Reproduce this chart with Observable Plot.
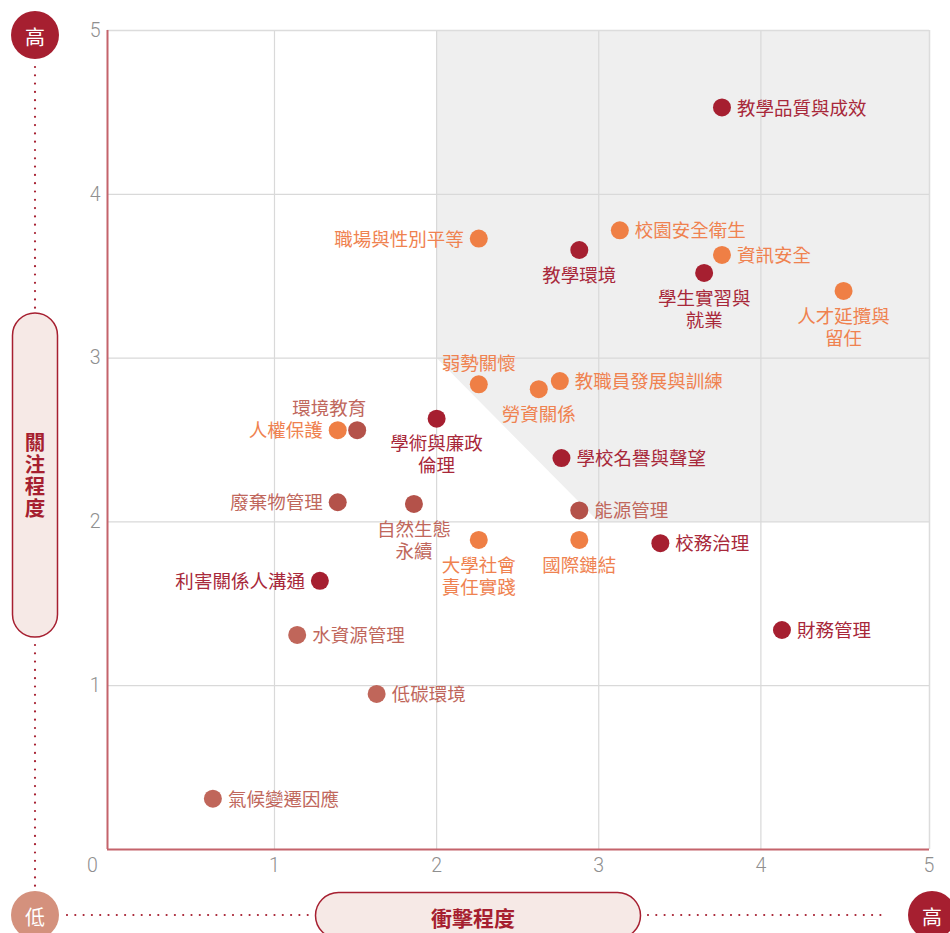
<!DOCTYPE html>
<html><head><meta charset="utf-8">
<script src="https://cdn.jsdelivr.net/npm/d3@7"></script>
<script src="https://cdn.jsdelivr.net/npm/@observablehq/plot@0.6"></script>
<style>
body{margin:0;background:#fff;}
#wrap{position:relative;width:950px;height:933px;overflow:hidden;font-family:"Noto Sans CJK TC","Noto Sans",sans-serif;}
#wrap svg.deco{position:absolute;left:0;top:0;}
</style></head><body><div id="wrap"></div>
<script>
// ---- data ----
const topics = ["教學品質與成效","職場與性別平等","校園安全衛生","教學環境","資訊安全","學生實習與\n就業","人才延攬與\n留任","弱勢關懷","教職員發展與訓練","勞資關係","學術與廉政\n倫理","人權保護","環境教育","學校名譽與聲望","廢棄物管理","自然生態\n永續","能源管理","大學社會\n責任實踐","國際鏈結","校務治理","利害關係人溝通","財務管理","水資源管理","低碳環境","氣候變遷因應"];
const impact  = [3.76,2.26,3.13,2.88,3.76,3.65,4.51,2.26,2.76,2.63,2.00,1.39,1.51,2.77,1.39,1.86,2.88,2.26,2.88,3.38,1.28,4.13,1.14,1.63,0.62];
const concern = [4.53,3.73,3.78,3.66,3.63,3.52,3.41,2.84,2.86,2.81,2.63,2.56,2.56,2.39,2.12,2.11,2.07,1.89,1.89,1.87,1.64,1.34,1.31,0.95,0.31];
const group   = ["治理","社會","社會","治理","社會","治理","社會","社會","社會","社會","治理","社會","環境","治理","環境","環境","環境","社會","社會","治理","治理","治理","氣候","氣候","氣候"];
const labelSide = ["right","left","right","below","right","below","below","above","right","below","below","left","aboveLeft","right","left","below","right","below","below","right","left","right","right","right","right"];
const groups = ["治理","社會","環境","氣候"];
const pointColors = ["#a61f30","#ef7f45","#b4524a","#c0665a"];
const textColors  = ["#a8283a","#ef8250","#c0675c","#c0675c"];
const xTickVals = [1,2,3,4];
const yTickVals = [1,2,3,4,5];
const xDomain = [-0.03,5.04];
const yDomain = [0,5];
const threshold = 2, diagSum = 5;

const data = topics.map((t,i)=>({topic:t,x:impact[i],y:concern[i],group:group[i],side:labelSide[i]}));
const tcol = g => textColors[groups.indexOf(g)];

// high-priority zone: x>=2, y>=2, x+y>=5
const zone = [
  {x:threshold, y1:diagSum-threshold, y2:yDomain[1]},
  {x:diagSum-threshold, y1:threshold, y2:yDomain[1]},
  {x:xDomain[1], y1:threshold, y2:yDomain[1]}
];

const font = '"Noto Sans CJK TC","Noto Sans",sans-serif';
const labelStyle = {fontSize:18.5, fontFamily:font, fill:d=>tcol(d.group), lineHeight:1.19};
const tickStyle = {tickSize:0, fontSize:19.5, fontWeight:300, fontFamily:"Roboto", fill:"#8f8f8f", label:null, tickFormat:d=>String(d)};

const chart = Plot.plot({
  width:950, height:933,
  marginLeft:107, marginRight:21, marginTop:30, marginBottom:84,
  style:{fontFamily:font, background:"transparent"},
  x:{domain:xDomain},
  y:{domain:yDomain},
  color:{domain:groups, range:pointColors},
  marks:[
    Plot.areaY(zone,{x:"x",y1:"y1",y2:"y2",fill:"#efefef",curve:"linear"}),
    Plot.ruleX(xTickVals,{stroke:"#d9d9d9",strokeWidth:1.2}),
    Plot.ruleY([1,2,3,4],{stroke:"#d9d9d9",strokeWidth:1.2}),
    Plot.ruleY([yDomain[1]],{stroke:"#dcdcdc",strokeWidth:1.5}),
    Plot.ruleX([xDomain[1]],{stroke:"#dcdcdc",strokeWidth:1.5}),
    Plot.ruleX([xDomain[0]],{stroke:"#c4636b",strokeWidth:2}),
    Plot.ruleY([yDomain[0]],{stroke:"#c4636b",strokeWidth:2}),
    Plot.axisY(yTickVals,{...tickStyle,tickPadding:7}),
    Plot.axisX(xTickVals,{...tickStyle,tickPadding:9}),
    Plot.axisX([0],{...tickStyle,tickPadding:9,dx:-20}),
    Plot.axisX([5],{...tickStyle,tickPadding:9,dx:6}),
    Plot.dot(data,{x:"x",y:"y",r:9,fill:"group",stroke:null}),
    Plot.text(data.filter(d=>d.side==="right"),{x:"x",y:"y",text:"topic",textAnchor:"start",dx:15,...labelStyle}),
    Plot.text(data.filter(d=>d.side==="left"),{x:"x",y:"y",text:"topic",textAnchor:"end",dx:-15,...labelStyle}),
    Plot.text(data.filter(d=>d.side==="below"),{x:"x",y:"y",text:"topic",lineAnchor:"top",dy:16,...labelStyle}),
    Plot.text(data.filter(d=>d.side==="above"),{x:"x",y:"y",text:"topic",lineAnchor:"bottom",dy:-14,...labelStyle}),
    Plot.text(data.filter(d=>d.side==="aboveLeft"),{x:"x",y:"y",text:"topic",lineAnchor:"bottom",textAnchor:"end",dx:9,dy:-15,...labelStyle})
  ]
});
const wrap = document.getElementById("wrap");
wrap.appendChild(chart);

// ---- axis decorations (titles, low/high markers) ----
const deco = d3.select(wrap).append("svg").attr("class","deco").attr("width",950).attr("height",933);
const red = "#a61f30", pale = "#f6e9e6", low = "#d4917d";
const dots = (x1,y1,x2,y2)=>deco.append("line").attr("x1",x1).attr("y1",y1).attr("x2",x2).attr("y2",y2)
  .attr("stroke",red).attr("stroke-width",2.2).attr("stroke-linecap","round").attr("stroke-dasharray","0 8.3");
dots(35,67,35,308); dots(35,645,35,888);
dots(67,915,310,915); dots(648,915,888,915);
// vertical pill
deco.append("rect").attr("x",12.5).attr("y",313).attr("width",45).attr("height",324).attr("rx",22.5)
  .attr("fill",pale).attr("stroke",red).attr("stroke-width",1.5);
deco.append("text").attr("x",35).attr("y",476).attr("text-anchor","middle")
  .attr("writing-mode","vertical-rl").attr("style","writing-mode:vertical-rl;text-orientation:upright")
  .attr("font-size",20.5).attr("font-weight",700).attr("letter-spacing",1.5).attr("fill",red).attr("font-family",font).text("關注程度");
// horizontal pill
deco.append("rect").attr("x",315.5).attr("y",892.5).attr("width",325).attr("height",46).attr("rx",23)
  .attr("fill",pale).attr("stroke",red).attr("stroke-width",1.5);
deco.append("text").attr("x",473).attr("y",917).attr("text-anchor","middle").attr("dominant-baseline","central")
  .attr("font-size",21).attr("font-weight",700).attr("fill",red).attr("font-family",font).text("衝擊程度");
// circles
const circ = (cx,cy,fill,t)=>{deco.append("circle").attr("cx",cx).attr("cy",cy).attr("r",24).attr("fill",fill);
  deco.append("text").attr("x",cx).attr("y",cy+1).attr("text-anchor","middle").attr("dominant-baseline","central")
  .attr("font-size",20).attr("fill","#fff").attr("font-family",font).text(t);};
circ(35,35,red,"高");
circ(35,915,low,"低");
circ(932,915,red,"高");
</script></body></html>
